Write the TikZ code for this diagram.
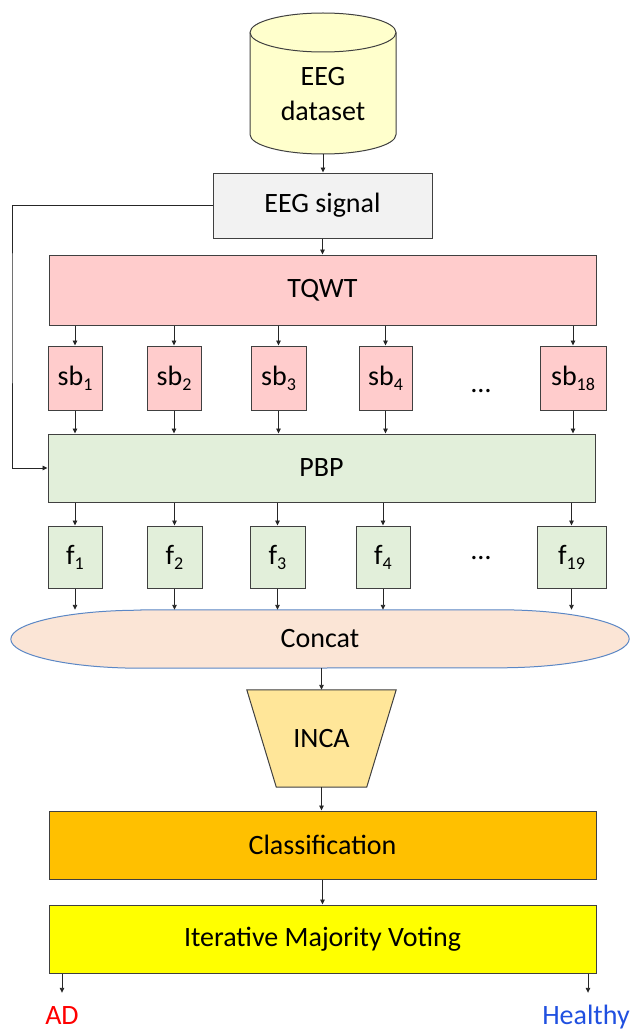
\documentclass[tikz,border=0pt]{standalone}
\usepackage{fontspec}
\setmainfont{Carlito}
\usetikzlibrary{arrows.meta,backgrounds}

% lowered, smaller index used in the sub-band and feature labels
\newcommand{\lowidx}[1]{\raisebox{-5pt}{\fontsize{18}{18}\selectfont #1}}

\definecolor{dbfill}{HTML}{FFFFCC}
\definecolor{sigfill}{HTML}{F2F2F2}
\definecolor{pinkfill}{HTML}{FFCCCC}
\definecolor{greenfill}{HTML}{E2EFDA}
\definecolor{peachfill}{HTML}{FBE5D6}
\definecolor{peachline}{HTML}{5B87C5}
\definecolor{incafill}{HTML}{FFE699}
\definecolor{clsfill}{HTML}{FFC000}
\definecolor{imvfill}{HTML}{FFFF00}
\definecolor{adred}{HTML}{FF0000}
\definecolor{healthyblue}{HTML}{2050E0}
\definecolor{edge}{HTML}{404040}

\begin{document}
\begin{tikzpicture}[x=1pt,y=1pt,
  txt/.style={font=\fontsize{28}{35}\selectfont, text=black},
  box/.style={txt, draw=edge, line width=1pt, inner sep=0pt},
  wide/.style={box, minimum width=547pt, minimum height=68pt},
  sbbox/.style={box, fill=pinkfill, minimum height=64pt},
  fbox/.style={box, fill=greenfill, minimum height=62pt},
  dots/.style={txt, inner sep=0pt, anchor=base},
  outlabel/.style={txt, inner sep=0pt, anchor=base, text height=18pt, text depth=6pt},
  arr/.style={-{Triangle[length=5pt,width=4.5pt]}, line width=0.9pt, draw=black!85}]

\useasboundingbox (0,0) rectangle (630,-1030);

% database cylinder
\fill[dbfill] (250,-32.5) -- (250,-134.5)
  arc[start angle=180,end angle=360,x radius=73pt,y radius=19.5pt]
  -- (396,-32.5)
  arc[start angle=0,end angle=180,x radius=73pt,y radius=19.5pt] -- cycle;
\draw[edge, line width=1pt] (250,-32.5) -- (250,-134.5)
  arc[start angle=180,end angle=360,x radius=73pt,y radius=19.5pt]
  -- (396,-32.5)
  arc[start angle=0,end angle=180,x radius=73pt,y radius=19.5pt];
\draw[edge, line width=1pt] (250,-32.5)
  arc[start angle=180,end angle=360,x radius=73pt,y radius=19.5pt];
\node[txt, align=center, inner sep=0pt] (db) at (323,-94) {EEG\\dataset};
\coordinate (dbbot) at (323,-154);

% signal and decomposition
\node[box, fill=sigfill, minimum width=219pt, minimum height=65pt] (sig) at (322.5,-205.5) {EEG signal};
\node[wide, fill=pinkfill, minimum height=70pt] (tqwt) at (322.5,-290) {TQWT};

\node[sbbox, minimum width=54pt] (sb1) at (75,-378) {sb\lowidx{1}};
\node[sbbox, minimum width=54pt] (sb2) at (174,-378) {sb\lowidx{2}};
\node[sbbox, minimum width=55pt] (sb3) at (278.5,-378) {sb\lowidx{3}};
\node[sbbox, minimum width=53pt] (sb4) at (385.5,-378) {sb\lowidx{4}};
\node[sbbox, minimum width=66pt] (sb18) at (573,-378) {sb\lowidx{18}};
\node[dots] (d1) at (481,-392) {…};

\node[wide, fill=greenfill] (pbp) at (321.5,-468) {PBP};

\node[fbox, minimum width=54pt] (f1) at (75,-557) {f\lowidx{1}};
\node[fbox, minimum width=55pt] (f2) at (174.5,-557) {f\lowidx{2}};
\node[fbox, minimum width=55pt] (f3) at (277.5,-557) {f\lowidx{3}};
\node[fbox, minimum width=54pt] (f4) at (383,-557) {f\lowidx{4}};
\node[fbox, minimum width=69pt] (f19) at (571.5,-557) {f\lowidx{19}};
\node[dots] (d2) at (481,-559) {…};

% concatenation (wide capsule with elliptical ends)
\node[txt, inner sep=0pt, minimum width=618pt, minimum height=58pt] (concat) at (320,-639) {Concat};
\begin{pgfonlayer}{background}
\draw[fill=peachfill, draw=peachline, line width=1pt]
  ([xshift=130pt]concat.north west) -- ([xshift=-130pt]concat.north east)
  arc[start angle=90,end angle=-90,x radius=130pt,y radius=29pt]
  -- ([xshift=130pt]concat.south west)
  arc[start angle=270,end angle=90,x radius=130pt,y radius=29pt] -- cycle;
\end{pgfonlayer}

% feature selection
\node[txt, inner sep=0pt, minimum width=149pt, minimum height=97pt] (inca) at (321.5,-738.5) {INCA};
\begin{pgfonlayer}{background}
\draw[fill=incafill, draw=edge, line width=1pt]
  (inca.north west) -- (inca.north east)
  -- ([xshift=-29.5pt]inca.south east) -- ([xshift=29.5pt]inca.south west) -- cycle;
\end{pgfonlayer}

\node[wide, fill=clsfill] (cls) at (322.5,-845) {Classification};
\node[wide, fill=imvfill] (imv) at (322.5,-939) {Iterative Majority Voting};

\node[outlabel, text=adred] (ad) at (62,-1024) {AD};
\node[outlabel, text=healthyblue] (hl) at (586,-1024) {Healthy};

% connectors
\draw[arr] (dbbot) -- (dbbot |- sig.north);
\draw[arr] (sig.south) -- (tqwt.north);
\coordinate (fbx) at (12,-300);
\draw[arr] (sig.west) -| (fbx) |- (pbp.west);

\foreach \n in {sb1,sb2,sb3,sb4,sb18}{
  \draw[arr] (\n.north |- tqwt.south) -- (\n.north);
  \draw[arr] (\n.south) -- (\n.south |- pbp.north);
}
\foreach \n in {f1,f2,f3,f4,f19}{
  \draw[arr] (\n.north |- pbp.south) -- (\n.north);
  \draw[arr] (\n.south) -- (\n.south |- concat.north);
}
\draw[arr] (inca.north |- concat.south) -- (inca.north);
\draw[arr] (inca.south) -- (inca.south |- cls.north);
\draw[arr] (cls.south) -- (imv.north);
\draw[arr] (ad.north |- imv.south) -- ([yshift=13pt]ad.north);
\draw[arr] ([xshift=2pt]hl.north |- imv.south) -- ([xshift=2pt,yshift=13pt]hl.north);

\end{tikzpicture}
\end{document}
